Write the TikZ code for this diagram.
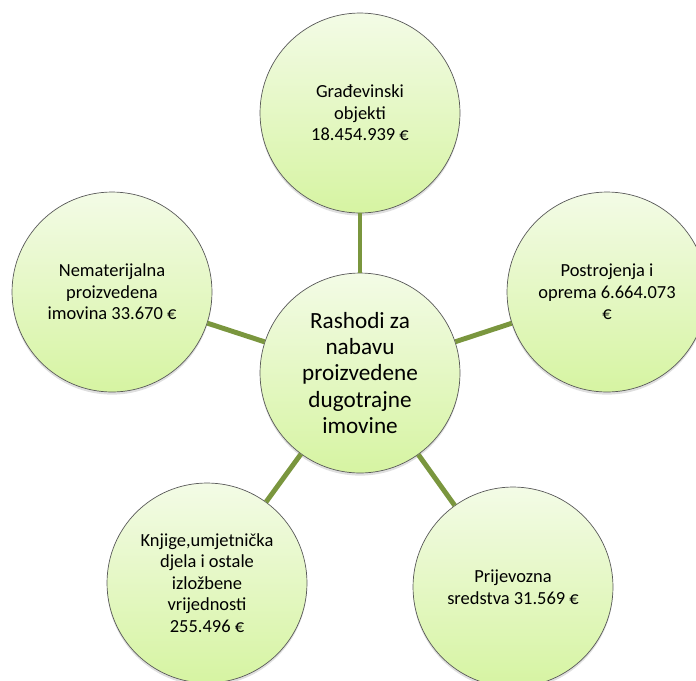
\documentclass[tikz,border=0pt]{standalone}
\usepackage{fontspec}
\setmainfont{Carlito}
\usetikzlibrary{shadows}
\definecolor{bubbletop}{HTML}{F3FBE6}
\definecolor{bubblebot}{HTML}{D6F4A2}
\definecolor{spoke}{HTML}{7A963E}
\tikzset{
    bubble/.style = {circle, draw=gray!70!black, thin, top color=bubbletop, bottom color=bubblebot, minimum size=4cm, inner sep=0pt, align=center, font=\fontsize{10.5}{12.2}\selectfont, drop shadow={shadow xshift=0pt, shadow yshift=-1.5pt, opacity=0.25}},
    hub/.style = {bubble, font=\fontsize{13.2}{15}\selectfont},
    spoke-line/.style = {draw=spoke, line width=2.8pt},
}

\begin{document}
\begin{tikzpicture}[x=0.02cm, y=-0.02cm]
\useasboundingbox (0,0) rectangle (696,680);
\clip (0,0) rectangle (696,680);
\node[hub] (hub) at (360,373) {Rashodi za\\nabavu\\proizvedene\\dugotrajne\\imovine};
\node[bubble] (gradj) at (360,113) {Građevinski\\objekti\\18.454.939 €};
\node[bubble] (oprema) at (607,292) {Postrojenja i\\oprema 6.664.073\\€};
\node[bubble] (nemat) at (112,292) {Nematerijalna\\proizvedena\\imovina 33.670 €};
\node[bubble] (knjige) at (207,583) {Knjige,umjetnička\\djela i ostale\\izložbene\\vrijednosti\\255.496 €};
\node[bubble] (prijev) at (513,587) {Prijevozna\\sredstva 31.569 €};
\draw[spoke-line] (hub) -- (gradj);
\draw[spoke-line] (hub) -- (oprema);
\draw[spoke-line] (hub) -- (nemat);
\draw[spoke-line] (hub) -- (knjige);
\draw[spoke-line] (hub) -- (prijev);
\end{tikzpicture}
\end{document}
